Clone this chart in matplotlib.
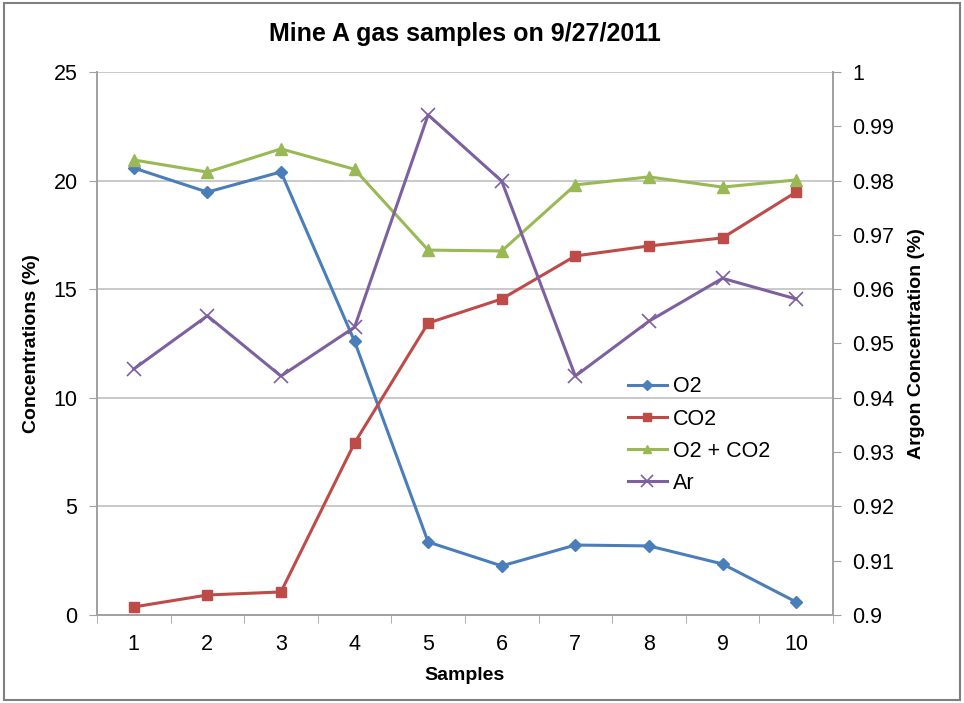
import matplotlib
matplotlib.use("Agg")
import matplotlib.pyplot as plt
from matplotlib.patches import Rectangle

plt.rcParams['font.family'] = ['Liberation Sans', 'DejaVu Sans']

samples = [1, 2, 3, 4, 5, 6, 7, 8, 9, 10]
o2 = [20.58, 19.47, 20.4, 12.6, 3.36, 2.26, 3.22, 3.18, 2.35, 0.6]
co2 = [0.37, 0.92, 1.06, 7.92, 13.44, 14.55, 16.53, 16.99, 17.36, 19.47]
o2_co2 = [20.95, 20.39, 21.46, 20.52, 16.8, 16.76, 19.8, 20.17, 19.7, 20.03]
ar = [0.9453, 0.9551, 0.9440, 0.9530, 0.9921, 0.9799, 0.9440, 0.9541, 0.9620, 0.9582]

fig = plt.figure(figsize=(9.64, 7.03), dpi=100)
fig.patches.append(Rectangle((0.004, 0.004), 0.992, 0.992, transform=fig.transFigure,
                             fill=False, edgecolor='#7f7f7f', linewidth=1.5))
ax = fig.add_axes([0.1006, 0.1252, 0.7634, 0.7724])
ax2 = ax.twinx()

ax.plot(samples, o2, color='#4a7ebb', marker='D', markersize=6, linewidth=2.2, label='O2')
ax.plot(samples, co2, color='#be4b48', marker='s', markersize=7, linewidth=2.2, label='CO2')
ax.plot(samples, o2_co2, color='#98b954', marker='^', markersize=8, linewidth=2.2, label='O2 + CO2')
ax2.plot(samples, ar, color='#7d60a0', marker='x', markersize=10, markeredgewidth=1.2, linewidth=2.2, label='Ar')

ax.set_xlim(0.5, 10.5)
ax.set_ylim(0, 25)
ax.set_yticks([0, 5, 10, 15, 20, 25])
ax2.set_ylim(0.9, 1.0)
ax2.set_yticks([0.9 + 0.01 * i for i in range(11)])
ax2.set_yticklabels(['0.9', '0.91', '0.92', '0.93', '0.94', '0.95', '0.96', '0.97', '0.98', '0.99', '1'])

ax.set_xticks(samples)
ax.set_xticklabels([str(s) for s in samples])
ax.set_xticks([s + 0.5 for s in range(0, 11)], minor=True)
ax.tick_params(axis='x', which='major', length=0, labelsize=15.5, pad=14)
ax.tick_params(axis='x', which='minor', length=6, color='#a0a0a0', direction='out')
ax.tick_params(axis='y', length=6, color='#a0a0a0', labelsize=15.5, pad=8)
ax2.tick_params(axis='y', length=6, color='#a0a0a0', labelsize=15.5, pad=8)

ax.grid(axis='y', color='#c0c0c0', linewidth=1.2)
ax.set_axisbelow(True)
for a in (ax, ax2):
    a.spines['top'].set_visible(False)
    for s in ('left', 'right', 'bottom'):
        a.spines[s].set_color('#a0a0a0')
        a.spines[s].set_linewidth(1.2)

ax.set_xlabel('Samples', fontsize=14, fontweight='bold', labelpad=8)
ax.set_ylabel('Concentrations (%)', fontsize=14, fontweight='bold', labelpad=10)
ax2.set_ylabel('Argon Concentration (%)', fontsize=14, fontweight='bold', labelpad=10)
ax.set_title('Mine A gas samples on 9/27/2011', fontsize=18, fontweight='bold', pad=22)

handles = ax.get_lines() + ax2.get_lines()
leg = ax.legend(handles, [h.get_label() for h in handles], loc='upper left',
                bbox_to_anchor=(0.695, 0.475), frameon=False, fontsize=15.5,
                handlelength=1.8, handletextpad=0.3, labelspacing=0.52)
for h in leg.legend_handles:
    h.set_markersize(h.get_markersize() * 0.8)

fig.savefig('out.png', dpi=100)
